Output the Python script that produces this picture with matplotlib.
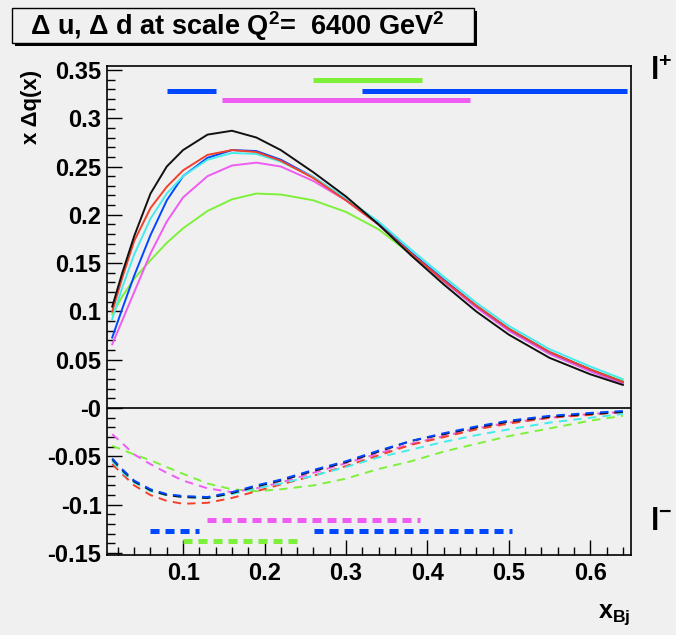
import numpy as np
import matplotlib
matplotlib.use('Agg')
import matplotlib.pyplot as plt
from matplotlib.patches import Rectangle
from matplotlib.ticker import MultipleLocator, FixedLocator, FixedFormatter

plt.rcParams['font.family'] = ['Liberation Sans', 'DejaVu Sans']
plt.rcParams['font.weight'] = 'bold'
plt.rcParams['mathtext.fontset'] = 'custom'
plt.rcParams['mathtext.rm'] = 'Liberation Sans:bold'
plt.rcParams['mathtext.it'] = 'Liberation Sans:bold'
plt.rcParams['mathtext.bf'] = 'Liberation Sans:bold'
plt.rcParams['mathtext.sf'] = 'Liberation Sans'
plt.rcParams['lines.scale_dashes'] = False

# x grid the curves were read on
x = [0.013, 0.025, 0.04, 0.06, 0.08, 0.10, 0.13, 0.16, 0.19, 0.22,
     0.26, 0.30, 0.34, 0.38, 0.42, 0.46, 0.50, 0.55, 0.60, 0.64]

# l+ (solid)
up_black = [0.105, 0.139, 0.178, 0.222, 0.250, 0.267, 0.283, 0.287, 0.280, 0.267,
            0.244, 0.219, 0.190, 0.158, 0.128, 0.100, 0.076, 0.052, 0.035, 0.024]
up_red = [0.100, 0.134, 0.173, 0.207, 0.229, 0.246, 0.262, 0.267, 0.265, 0.256,
          0.238, 0.215, 0.190, 0.160, 0.132, 0.106, 0.082, 0.058, 0.040, 0.027]
up_blue = [0.073, 0.102, 0.137, 0.179, 0.215, 0.240, 0.259, 0.267, 0.266, 0.257,
           0.239, 0.216, 0.191, 0.161, 0.133, 0.106, 0.082, 0.058, 0.040, 0.027]
up_cyan = [0.092, 0.124, 0.159, 0.196, 0.222, 0.240, 0.257, 0.264, 0.263, 0.255,
           0.239, 0.217, 0.193, 0.164, 0.136, 0.109, 0.085, 0.061, 0.043, 0.030]
up_magenta = [0.066, 0.090, 0.120, 0.160, 0.193, 0.218, 0.240, 0.251, 0.254, 0.250,
              0.235, 0.215, 0.190, 0.160, 0.131, 0.104, 0.080, 0.056, 0.038, 0.025]
up_green = [0.097, 0.115, 0.134, 0.153, 0.171, 0.186, 0.204, 0.216, 0.222, 0.221,
            0.215, 0.203, 0.185, 0.159, 0.131, 0.105, 0.082, 0.058, 0.040, 0.028]

# l- (dashed)
lo_black = [-0.053, -0.064, -0.076, -0.085, -0.090, -0.092, -0.093, -0.088, -0.081, -0.075,
            -0.065, -0.056, -0.045, -0.034, -0.027, -0.020, -0.014, -0.009, -0.006, -0.004]
lo_blue = [-0.052, -0.063, -0.075, -0.084, -0.089, -0.091, -0.092, -0.087, -0.080, -0.074,
           -0.064, -0.055, -0.044, -0.034, -0.026, -0.019, -0.013, -0.008, -0.005, -0.003]
lo_red = [-0.058, -0.068, -0.080, -0.090, -0.096, -0.099, -0.098, -0.093, -0.086, -0.079,
          -0.070, -0.060, -0.049, -0.038, -0.030, -0.022, -0.016, -0.010, -0.007, -0.004]
lo_cyan = [-0.055, -0.066, -0.077, -0.086, -0.090, -0.092, -0.093, -0.089, -0.083, -0.078,
           -0.070, -0.061, -0.051, -0.043, -0.035, -0.028, -0.022, -0.015, -0.010, -0.006]
lo_magenta = [-0.027, -0.036, -0.048, -0.058, -0.067, -0.075, -0.083, -0.087, -0.083, -0.077,
              -0.067, -0.057, -0.047, -0.037, -0.029, -0.021, -0.015, -0.010, -0.006, -0.004]
lo_green = [-0.039, -0.043, -0.048, -0.054, -0.061, -0.068, -0.078, -0.084, -0.086, -0.084,
            -0.080, -0.073, -0.063, -0.055, -0.045, -0.037, -0.029, -0.021, -0.013, -0.008]

# horizontal range bars: (x0, x1, y)
bars_up = {'blue': [(0.08, 0.14, 0.328), (0.32, 0.645, 0.328)],
           'green': [(0.26, 0.393, 0.3395)],
           'magenta': [(0.148, 0.452, 0.319)]}
bars_lo = {'magenta': [(0.13, 0.391, -0.116)],
           'blue': [(0.06, 0.12, -0.127), (0.261, 0.504, -0.127)],
           'green': [(0.10, 0.24, -0.137)]}

ytick_vals = [-0.15, -0.1, -0.05, 0, 0.05, 0.1, 0.15, 0.2, 0.25, 0.3, 0.35]
ytick_labels = ['-0.15', '-0.1', '-0.05', '-0', '0.05', '0.1', '0.15', '0.2', '0.25', '0.3', '0.35']

cols = {'black': '#111111', 'red': '#f2402a', 'blue': '#0048ff',
        'cyan': '#45ecec', 'magenta': '#ee5cf2', 'green': '#7ef03a'}
bg = '#f0f0f0'

W, H = 676, 635
fig = plt.figure(figsize=(W / 100, H / 100), dpi=100, facecolor=bg)
ax = fig.add_axes([107 / W, 1 - 555 / H, 524 / W, 489 / H], facecolor=bg)

dash = (0, (6, 4.5))
lw = 1.4
ax.plot(x, up_green, color=cols['green'], lw=lw)
ax.plot(x, up_magenta, color=cols['magenta'], lw=lw)
ax.plot(x, up_blue, color=cols['blue'], lw=lw)
ax.plot(x, up_cyan, color=cols['cyan'], lw=lw)
ax.plot(x, up_red, color=cols['red'], lw=lw)
ax.plot(x, up_black, color=cols['black'], lw=lw)

ax.plot(x, lo_green, color=cols['green'], lw=lw, ls=dash)
ax.plot(x, lo_magenta, color=cols['magenta'], lw=lw, ls=dash)
ax.plot(x, lo_red, color=cols['red'], lw=lw, ls=dash)
ax.plot(x, lo_cyan, color=cols['cyan'], lw=lw, ls=dash)
ax.plot(x, lo_black, color=cols['black'], lw=lw, ls=dash)
ax.plot(x, lo_blue, color=cols['blue'], lw=lw, ls=dash)

for c, segs in bars_up.items():
    for x0, x1, y in segs:
        ax.plot([x0, x1], [y, y], color=cols[c], lw=3.6, solid_capstyle='butt')
for c, segs in bars_lo.items():
    for x0, x1, y in segs:
        ax.plot([x0, x1], [y, y], color=cols[c], lw=3.6, ls=(0, (6.5, 4.3)),
                dash_capstyle='butt')

ax.axhline(0, color='black', lw=1.2)

ax.set_xlim(0.0066, 0.65)
ax.set_ylim(-0.152, 0.354)
ax.xaxis.set_major_locator(MultipleLocator(0.1))
ax.xaxis.set_minor_locator(MultipleLocator(0.02))
ax.yaxis.set_major_locator(FixedLocator(ytick_vals))
ax.yaxis.set_major_formatter(FixedFormatter(ytick_labels))
ax.yaxis.set_minor_locator(MultipleLocator(0.01))
ax.tick_params(which='both', direction='in', top=False, right=False, width=1, labelsize=17)
ax.tick_params(which='major', length=11)
ax.tick_params(which='minor', length=5.5)
ax.tick_params(axis='x', pad=5)
ax.tick_params(axis='y', pad=4)
for s in ax.spines.values():
    s.set_linewidth(1.2)

# axis titles and side labels
fig.text(32 / W, 1 - 107 / H, 'x Δq(x)', rotation=90, ha='center', va='center', fontsize=16)
fig.text(630 / W, 1 - 615 / H, r'$\mathrm{x_{Bj}}$', ha='right', va='center', fontsize=18)
fig.text(650 / W, 1 - 72 / H, r'$\mathrm{l^{+}}$', ha='left', va='center', fontsize=22)
fig.text(650 / W, 1 - 522 / H, r'$\mathrm{l^{-}}$', ha='left', va='center', fontsize=22)

# title box with shadow
fig.patches.append(Rectangle((15 / W, 1 - 46 / H), 462 / W, 35 / H, transform=fig.transFigure,
                             fc='black', ec='black', lw=0))
fig.patches.append(Rectangle((12 / W, 1 - 43 / H), 462 / W, 35 / H, transform=fig.transFigure,
                             fc=bg, ec='black', lw=1))
fig.text(30 / W, 1 - 26 / H,
         r'$\mathsf{\Delta}$ u, $\mathsf{\Delta}$ d at scale Q$^{2}$=  6400 GeV$^{2}$',
         ha='left', va='center', fontsize=19.5)

fig.savefig('out.png', dpi=100, facecolor=bg)
